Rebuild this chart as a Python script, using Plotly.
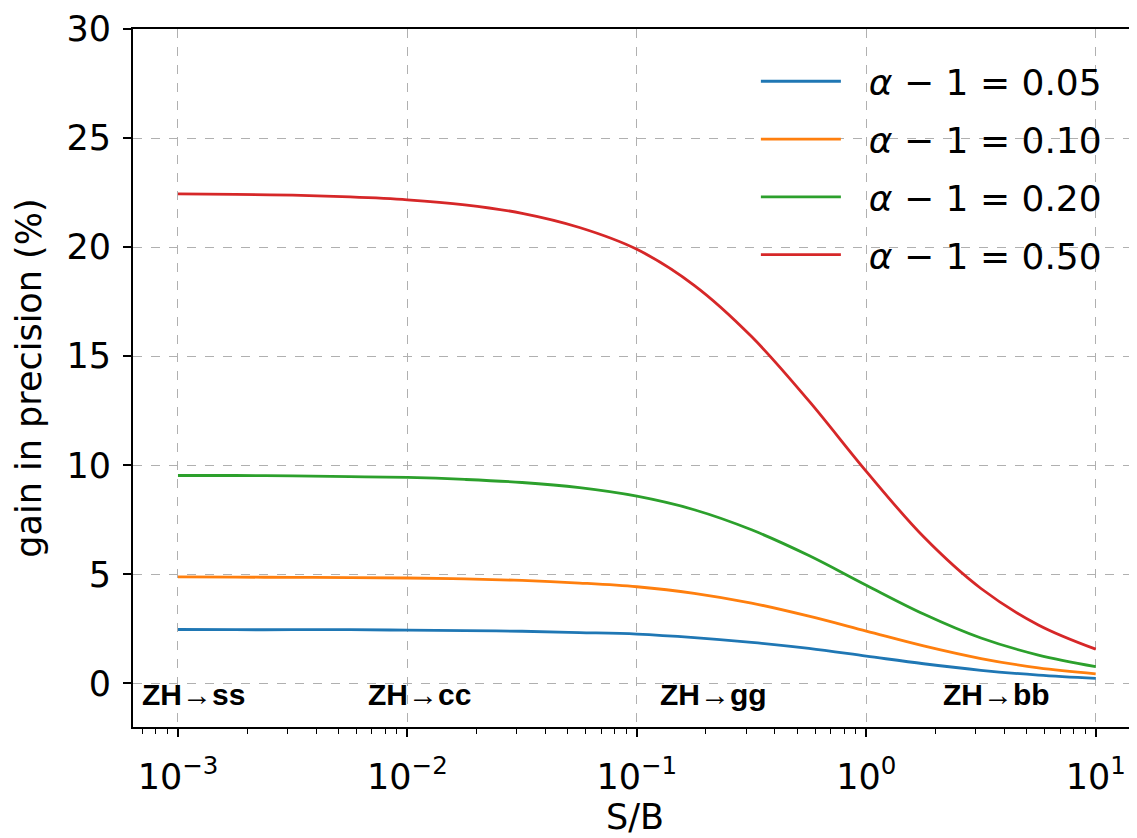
import math
import plotly.graph_objects as go

# S/B values (x) read at quarter-decade steps
sb = [0.001, 0.001778, 0.003162, 0.005623, 0.01, 0.01778, 0.03162, 0.05623,
      0.1, 0.1778, 0.3162, 0.5623, 1.0, 1.778, 3.162, 5.623, 10.0]

# gain in precision (%)
gain_005 = [2.47, 2.46, 2.46, 2.46, 2.44, 2.42, 2.39, 2.33, 2.26, 2.10, 1.88, 1.60, 1.25, 0.90, 0.60, 0.38, 0.23]
gain_010 = [4.88, 4.87, 4.86, 4.85, 4.83, 4.79, 4.72, 4.60, 4.43, 4.13, 3.68, 3.08, 2.40, 1.72, 1.14, 0.71, 0.44]
gain_020 = [9.53, 9.53, 9.51, 9.48, 9.44, 9.35, 9.21, 8.97, 8.58, 7.96, 7.04, 5.86, 4.50, 3.18, 2.08, 1.30, 0.77]
gain_050 = [22.44, 22.42, 22.38, 22.30, 22.17, 21.94, 21.55, 20.90, 19.90, 18.25, 15.90, 12.95, 9.72, 6.72, 4.35, 2.68, 1.57]

series_names = ["<i>α</i> − 1 = 0.05", "<i>α</i> − 1 = 0.10",
                "<i>α</i> − 1 = 0.20", "<i>α</i> − 1 = 0.50"]
series_colors = ["#1f77b4", "#ff7f0e", "#2ca02c", "#d62728"]

channel_labels = ["ZH→ss", "ZH→cc", "ZH→gg", "ZH→bb"]
channel_x = [0.00068, 0.0066, 0.124, 2.12]
channel_y = [-0.5, -0.5, -0.5, -0.5]

y_ticks = [0, 5, 10, 15, 20, 25, 30]
x_ticks = [0.001, 0.01, 0.1, 1, 10]
x_ticktext = ["10<sup>−3</sup>", "10<sup>−2</sup>", "10<sup>−1</sup>", "10<sup>0</sup>", "10<sup>1</sup>"]

minor_vals = []
for dec in [1e-4, 1e-3, 1e-2, 1e-1, 1, 10]:
    for m in range(2, 10):
        minor_vals.append(m * dec)

fig = go.Figure()
for i, (name, col, vals) in enumerate(zip(series_names, series_colors,
                                          [gain_005, gain_010, gain_020, gain_050])):
    fig.add_trace(go.Scatter(x=sb, y=vals, mode="lines", name="\u00a0\u00a0" + name,
                             line=dict(color=col, width=2.8, shape="spline", smoothing=1.0),
                             legendgroup=f"g{i}"))

for lab, xv, yv in zip(channel_labels, channel_x, channel_y):
    fig.add_annotation(x=math.log10(xv), y=yv, xref="x", yref="y", text=f"<b>{lab}</b>",
                       showarrow=False, xanchor="left", yanchor="middle",
                       font=dict(family="Liberation Sans", size=30, color="black"))

tickfont = dict(family="DejaVu Sans", size=35, color="black")

fig.update_xaxes(type="log", range=[-3.196, 1.18], automargin=False,
                 tickmode="array", tickvals=x_ticks, ticktext=x_ticktext,
                 tickfont=tickfont, ticks="outside", ticklen=8, tickwidth=1.5, tickcolor="black",
                 ticklabelstandoff=10,
                 showline=True, linecolor="black", linewidth=2, mirror=True,
                 showgrid=True, gridcolor="#b0b0b0", griddash="dash", gridwidth=1,
                 zeroline=False,
                 minor=dict(tickmode="array", tickvals=minor_vals, ticks="outside",
                            ticklen=5, tickwidth=1.2, tickcolor="black", showgrid=False),
                 title=dict(text="S/B", font=dict(family="DejaVu Sans", size=35, color="black"),
                            standoff=4))
fig.update_yaxes(range=[-2, 30], automargin=False, tickmode="array", tickvals=y_ticks,
                 tickfont=tickfont, ticks="outside", ticklen=8, tickwidth=1.5, tickcolor="black",
                 ticklabelstandoff=5,
                 showline=True, linecolor="black", linewidth=2, mirror=False,
                 showgrid=True, gridcolor="#b0b0b0", griddash="dash", gridwidth=1,
                 zeroline=False,
                 title=dict(text="gain in precision (%)",
                            font=dict(family="DejaVu Sans", size=35, color="black"),
                            standoff=14))

fig.update_layout(width=1129, height=830,
                  margin=dict(l=125, r=0, t=21, b=111),
                  paper_bgcolor="white", plot_bgcolor="white",
                  font=dict(family="DejaVu Sans", color="black"),
                  legend=dict(x=0.97, y=0.968, xanchor="right", yanchor="top",
                              bgcolor="rgba(255,255,255,0)", borderwidth=0,
                              font=dict(family="DejaVu Sans", size=36, color="black"),
                              traceorder="grouped", tracegroupgap=8, itemwidth=80))

fig.write_html("out.html")
